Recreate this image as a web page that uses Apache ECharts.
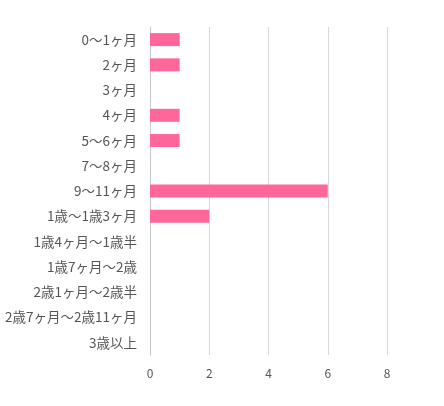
<!DOCTYPE html>
<html>
<head>
<meta charset="utf-8">
<script src="https://cdn.jsdelivr.net/npm/echarts@6/dist/echarts.min.js"></script>
<style>
  html, body { margin: 0; padding: 0; background: #fff; }
  #chart { width: 444px; height: 406px; }
</style>
</head>
<body>
<div id="chart"></div>
<script>
// 月齢区分と件数
var categories = ['0〜1ヶ月', '2ヶ月', '3ヶ月', '4ヶ月', '5〜6ヶ月', '7〜8ヶ月', '9〜11ヶ月',
  '1歳〜1歳3ヶ月', '1歳4ヶ月〜1歳半', '1歳7ヶ月〜2歳', '2歳1ヶ月〜2歳半', '2歳7ヶ月〜2歳11ヶ月', '3歳以上'];
var counts = [1, 1, 0, 1, 1, 0, 6, 2, 0, 0, 0, 0, 0];

var myChart = echarts.init(document.getElementById('chart'));

var option = {
    backgroundColor: '#fff',
    textStyle: { fontFamily: '"Noto Sans CJK JP", sans-serif' },
    grid: { left: 150, right: 57, top: 27, bottom: 51 },
    xAxis: {
        type: 'value',
        min: 0,
        max: 8,
        interval: 2,
        axisLine: { show: false },
        axisTick: { show: false },
        axisLabel: { color: '#555', fontSize: 12, margin: 12 },
        splitLine: { lineStyle: { color: '#d9d9d9' } }
    },
    yAxis: {
        type: 'category',
        inverse: true,
        data: categories,
        axisLine: { lineStyle: { color: '#c8c8c8' } },
        axisTick: { length: 5, lineStyle: { color: '#c8c8c8' } },
        axisLabel: { color: '#555', fontSize: 13.5, margin: 13 }
    },
    series: [
        {
            type: 'bar',
            data: counts,
            barWidth: 13,
            itemStyle: { color: '#ff6699' },
            animation: false
        }
    ]
};
myChart.setOption(option);
</script>
</body>
</html>
